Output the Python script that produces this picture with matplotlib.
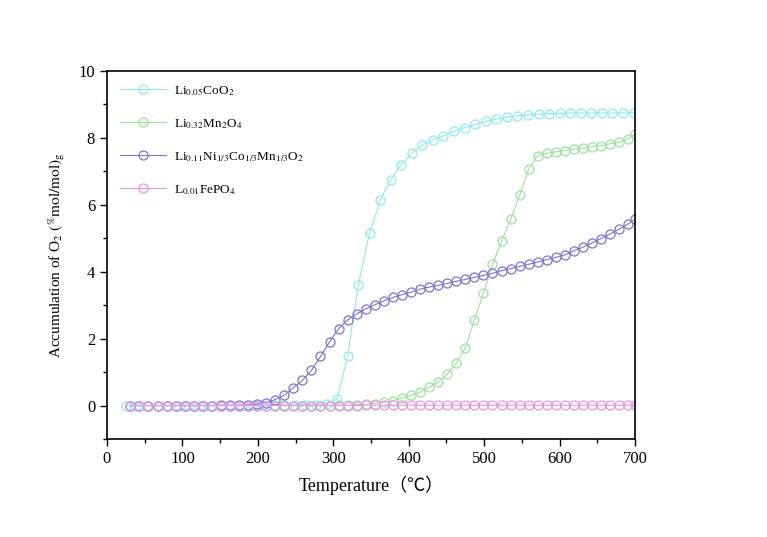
import matplotlib
matplotlib.use('Agg')
import matplotlib.pyplot as plt
from matplotlib.ticker import MultipleLocator

plt.rcParams['font.family'] = ['Liberation Serif', 'DejaVu Serif']
plt.rcParams['mathtext.fontset'] = 'stix'

# Li0.05CoO2 (cyan)
t_co = [25, 39, 53, 67, 81, 95, 109, 123, 137, 151, 165, 179, 193, 207, 221, 235,
        249, 263, 277, 291, 305, 319, 333, 348, 362, 376, 390, 404, 418, 432, 446,
        460, 474, 488, 502, 516, 530, 544, 558, 572, 586, 600, 614, 628, 642, 656,
        670, 684, 698]
y_co = [0, 0, 0, 0, 0, 0, 0, 0, 0, 0, 0, 0, 0.01, 0.01, 0.02, 0.02,
        0.02, 0.03, 0.03, 0.04, 0.2, 1.47, 3.6, 5.15, 6.13, 6.75, 7.2, 7.54, 7.78, 7.94, 8.06,
        8.2, 8.3, 8.4, 8.49, 8.56, 8.62, 8.66, 8.68, 8.71, 8.72, 8.73, 8.74, 8.74, 8.74, 8.74,
        8.74, 8.74, 8.75]

# common 12-degree grid for the other three samples
t_12 = [31, 43, 55, 67, 79, 91, 103, 115, 127, 139, 151, 163, 175, 187, 199, 211,
        223, 235, 247, 259, 271, 283, 295, 307, 319, 331, 343, 355, 367, 379, 391,
        403, 415, 427, 439, 451, 463, 475, 487, 499, 511, 523, 535, 547, 559, 571,
        583, 595, 607, 619, 631, 643, 655, 667, 679, 691, 700]

# Li0.32Mn2O4 (green)
y_mn = [0, 0, 0, 0, 0, 0, 0, 0, 0, 0, 0, 0, 0, 0, 0, 0,
        0, 0, 0, 0, 0, 0, 0, 0.01, 0.01, 0.03, 0.04, 0.06, 0.1, 0.15, 0.22,
        0.31, 0.4, 0.55, 0.7, 0.94, 1.26, 1.73, 2.55, 3.36, 4.22, 4.92, 5.56, 6.28, 7.07, 7.47,
        7.54, 7.58, 7.62, 7.66, 7.69, 7.73, 7.76, 7.82, 7.87, 7.96, 8.12]

# Li0.11Ni1/3Co1/3Mn1/3O2 (purple)
y_nmc = [0, 0, 0, 0, 0, 0, 0, 0, 0, 0, 0.01, 0.01, 0.01, 0.02, 0.04, 0.08,
         0.18, 0.31, 0.53, 0.75, 1.05, 1.47, 1.9, 2.3, 2.56, 2.74, 2.89, 3.01, 3.13, 3.23, 3.31,
         3.39, 3.48, 3.54, 3.59, 3.65, 3.71, 3.77, 3.83, 3.89, 3.95, 4.03, 4.09, 4.16, 4.22, 4.29,
         4.36, 4.43, 4.5, 4.63, 4.73, 4.86, 4.99, 5.13, 5.27, 5.43, 5.57]

# L0.01FePO4 (pink)
y_fe = [0, 0, 0, 0, 0, 0, 0, 0, 0, 0, 0, 0, 0, 0, 0, 0,
        0, 0, 0, 0, 0, 0, 0, 0, 0, 0, 0.01, 0.01, 0.01, 0.01, 0.01,
        0.01, 0.01, 0.01, 0.01, 0.01, 0.01, 0.01, 0.01, 0.01, 0.01, 0.01, 0.01, 0.01, 0.01, 0.01,
        0.01, 0.01, 0.01, 0.01, 0.01, 0.01, 0.01, 0.01, 0.01, 0.01, 0.01]

series = [
    (t_co, y_co, '#8ee8ec', r'Li$_{0.05}$CoO$_2$'),
    (t_12, y_mn, '#9be29b', r'Li$_{0.32}$Mn$_2$O$_4$'),
    (t_12, y_nmc, '#7b74d0', r'Li$_{0.11}$Ni$_{1/3}$Co$_{1/3}$Mn$_{1/3}$O$_2$'),
    (t_12, y_fe, '#e894e8', r'L$_{0.01}$FePO$_4$'),
]

fig = plt.figure(figsize=(7.67, 5.37), dpi=100)
ax = fig.add_axes([0.1395, 0.1825, 0.6885, 0.6855])

for x, y, c, lab in series:
    ax.plot(x, y, color=c, lw=0.8, marker='o', ms=6.5, mfc='none', mec=c, mew=0.9, label=lab)

ax.set_xlim(0, 700)
ax.set_ylim(-1, 10)
ax.xaxis.set_major_locator(MultipleLocator(100))
ax.xaxis.set_minor_locator(MultipleLocator(50))
ax.yaxis.set_major_locator(MultipleLocator(2))
ax.yaxis.set_minor_locator(MultipleLocator(1))
ax.tick_params(which='both', direction='out', top=False, right=False, labelsize=12)
ax.tick_params(which='major', length=5, width=1)
ax.tick_params(which='minor', length=3, width=1)
for s in ax.spines.values():
    s.set_linewidth(1.2)

ax.set_xlabel('Temperature（℃）', fontsize=13, family=['Liberation Serif', 'Noto Sans CJK SC'], labelpad=6)
ax.set_ylabel(r'Accumulation of O$_2$ $\left(^{\%}\mathrm{mol/mol}\right)_\mathrm{g}$', fontsize=11, labelpad=8)

ax.legend(loc='upper left', frameon=False, fontsize=9.5, handlelength=3.5, numpoints=1,
          labelspacing=1.45, borderaxespad=0.6, handletextpad=0.6)

plt.savefig('out.png', dpi=100)
